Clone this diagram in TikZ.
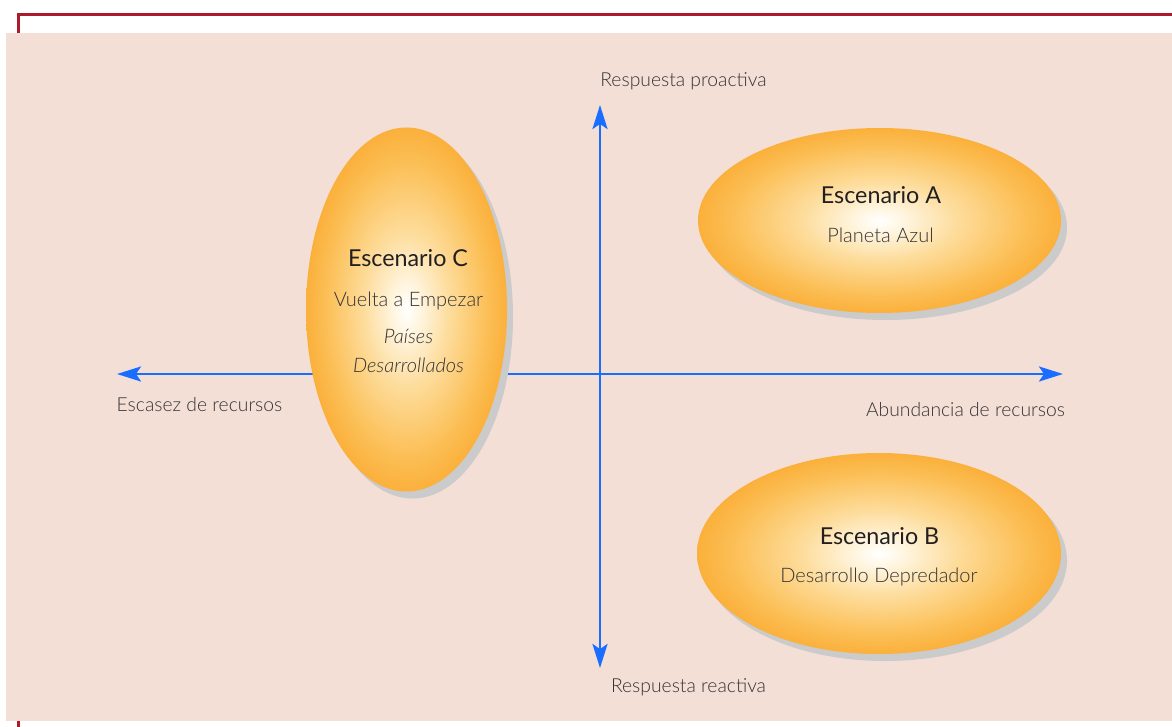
\documentclass[tikz,border=0pt]{standalone}
\usepackage{fontspec}
\setmainfont{Lato}
\newfontfamily\lightfont{Lato Light}
\usetikzlibrary{arrows.meta,shapes.geometric,shadows}
\definecolor{panel}{HTML}{F3DFD6}
\definecolor{frame}{HTML}{AC1A2C}
\definecolor{axisblue}{HTML}{1A6EFF}
\definecolor{shadowgray}{HTML}{CBCBCB}
\definecolor{inktitle}{HTML}{231F20}
\definecolor{inkbody}{HTML}{353333}
% white core fading to orange at the rim
\pgfdeclareradialshading{eggshade}{\pgfpoint{0bp}{0bp}}{rgb(0bp)=(1,1,1); rgb(2bp)=(1,0.98,0.93); rgb(11bp)=(0.993,0.86,0.60); rgb(20bp)=(0.986,0.75,0.34); rgb(25bp)=(0.984,0.69,0.23); rgb(50bp)=(0.984,0.69,0.23)}
\begin{document}
\begin{tikzpicture}[x=1pt,y=-1pt,
  egg/.style={ellipse, inner sep=0pt, shading=eggshade,
    drop shadow={shadow xshift=6pt, shadow yshift=-7pt, fill=shadowgray, opacity=1}},
  axis/.style={axisblue, line width=2.6pt, {Stealth[length=24pt,width=15pt,inset=5pt]}-{Stealth[length=24pt,width=15pt,inset=5pt]}},
  title/.style={anchor=base, text=inktitle, font=\fontsize{23.3}{27}\selectfont, inner sep=0pt},
  body/.style={anchor=base, text=inkbody, font=\lightfont\fontsize{20}{24}\selectfont, inner sep=0pt},
  label/.style={anchor=base, text=inkbody, font=\lightfont\fontsize{19.3}{23}\selectfont, inner sep=0pt}]
\useasboundingbox (0,0) rectangle (1172,727);
% red frame behind the panel
\draw[frame, line width=2.6pt] (18.7,727) -- (18.7,14.3) -- (1172,14.3);
\fill[panel] (6,33) rectangle (1172,721);
% axes
\coordinate (west) at (117,374);
\coordinate (east) at (1063,374);
\coordinate (north) at (600,105);
\coordinate (south) at (600,668);
\draw[axis] (west) -- (east);
\draw[axis] (north) -- (south);
% scenarios
\node[egg, minimum width=201pt, minimum height=364pt] (C) at (406.5,309.5) {};
\node[egg, minimum width=363pt, minimum height=185pt] (A) at (879.5,220.5) {};
\node[egg, minimum width=364pt, minimum height=201pt] (B) at (879,553.5) {};
% texts
\node[title] (Atitle) at (881,204) {Escenario A};
\node[body]  (Asub) at (880.5,243) {Planeta Azul};
\node[title] (Btitle) at (879.5,544) {Escenario B};
\node[body]  (Bsub) at (879,582) {Desarrollo Depredador};
\node[title] (Ctitle) at (408,267) {Escenario C};
\node[body]  (Csub) at (408.5,306) {Vuelta a Empezar};
\node[body]  (Cit1) at (408.5,343) {\itshape Países};
\node[body]  (Cit2) at (408.5,372) {\itshape Desarrollados};
\node[label] (top) at (683.5,87) {Respuesta proactiva};
\node[label] (bottom) at (688.5,692) {Respuesta reactiva};
\node[label] (left) at (199.5,411) {Escasez de recursos};
\node[label] (right) at (965.5,416) {Abundancia de recursos};
\end{tikzpicture}
\end{document}
